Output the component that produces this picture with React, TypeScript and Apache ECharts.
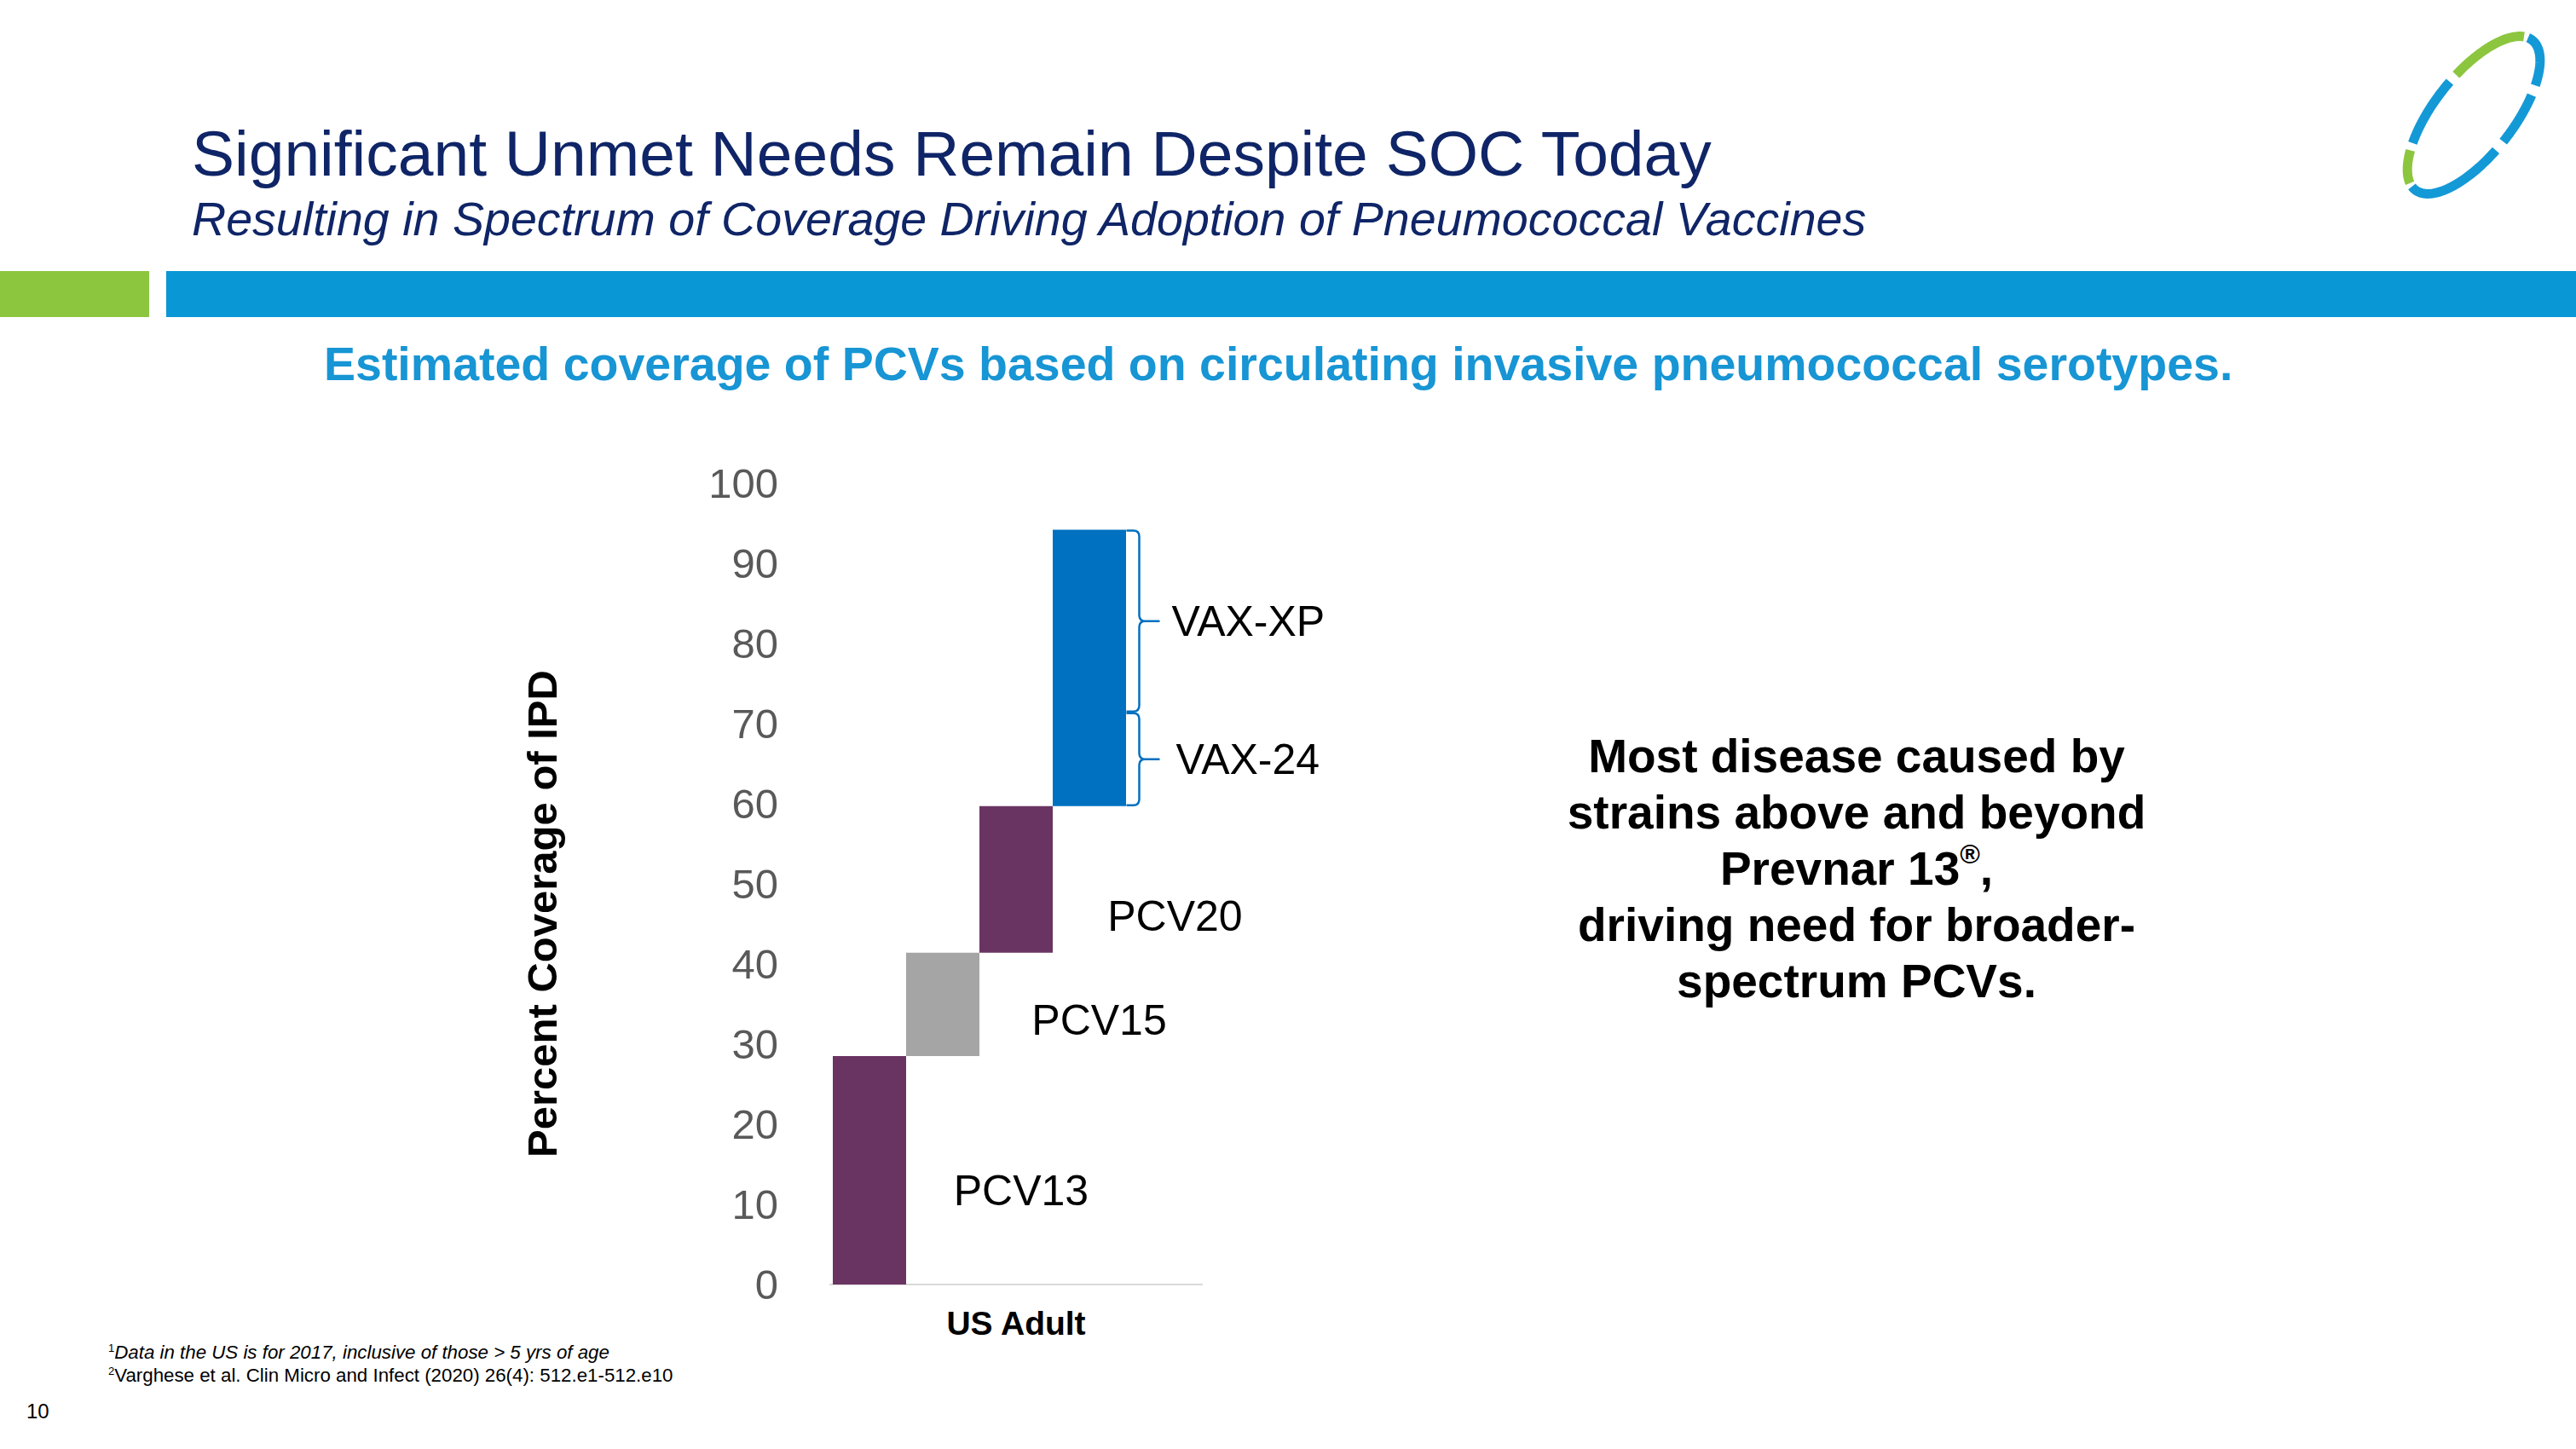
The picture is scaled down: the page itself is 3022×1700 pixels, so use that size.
import React, { useEffect, useRef } from 'react';
import * as echarts from 'echarts';

// ---------- data ----------
const categories = ['US Adult'];
const vaccines = ['PCV13', 'PCV15', 'PCV20', 'VAX-24 / VAX-XP'];
const coverageBase = [0, 28.5, 41.4, 59.7];
const coverageTop = [28.5, 41.4, 59.7, 94.2];
const barColors = ['#6A3462', '#A5A5A5', '#6A3462', '#0070C0'];
const yMin = 0;
const yMax = 100;
const yStep = 10;

const barLabels = ['PCV13', 'PCV15', 'PCV20'];
const barLabelValues = [11.7, 33.0, 46.0];
const bracketLabels = ['VAX-24', 'VAX-XP'];
const bracketRanges = [
  [59.7, 71.4],
  [71.4, 94.2],
];

// ---------- layout (slot units on hidden x value axis, 0..5) ----------
const barLabelSlotX = [1.66, 2.71, 3.73];
const bracketSlotX = 3.985;
const bracketLabelDx = [58, 53];

const FONT = 'Arial, "Liberation Sans", Helvetica, sans-serif';

// ---------- logo helpers ----------
const LOGO_C = [2902, 135];
const LOGO_A = 111.5;
const LOGO_B = 46.5;
const LOGO_ANG = (52 * Math.PI) / 180;
function logoArc(t0: number, t1: number) {
  const u = [Math.cos(LOGO_ANG), -Math.sin(LOGO_ANG)];
  const v = [Math.sin(LOGO_ANG), Math.cos(LOGO_ANG)];
  const pts: number[][] = [];
  const n = 40;
  for (let k = 0; k <= n; k++) {
    const t = t0 + ((t1 - t0) * k) / n;
    const a = LOGO_A * Math.cos(t);
    const b = LOGO_B * Math.sin(t);
    pts.push([LOGO_C[0] + a * u[0] + b * v[0], LOGO_C[1] + a * u[1] + b * v[1]]);
  }
  return pts;
}
const logoBlue = [
  [-0.12, 0.87],
  [1.0, 1.6],
  [1.72, 3.26],
  [-2.25, -1.45],
];
const logoGreen = [
  [-1.35, -0.22],
  [-2.93, -2.35],
];

function buildOption(): any {
  const series: any[] = [];
  vaccines.forEach((name, i) => {
    series.push({
      type: 'bar',
      name: name + ' base',
      stack: 's' + i,
      barWidth: 86,
      barGap: '0%',
      silent: true,
      itemStyle: { color: 'transparent' },
      data: [coverageBase[i]],
    });
    series.push({
      type: 'bar',
      name,
      stack: 's' + i,
      barWidth: 86,
      barGap: '0%',
      itemStyle: { color: barColors[i] },
      data: [coverageTop[i] - coverageBase[i]],
    });
  });
  // empty fifth slot (as in the original chart)
  series.push({
    type: 'bar',
    name: 'empty',
    stack: 's4',
    barWidth: 86,
    barGap: '0%',
    silent: true,
    itemStyle: { color: 'transparent' },
    data: [0],
  });

  // labels of PCV bars
  series.push({
    type: 'custom',
    name: 'pcv-labels',
    xAxisIndex: 1,
    yAxisIndex: 0,
    silent: true,
    data: barLabelValues.map((v, i) => [barLabelSlotX[i], v]),
    renderItem: (params: any, api: any) => {
      const i = params.dataIndex;
      const p = api.coord([api.value(0), api.value(1)]);
      return {
        type: 'text',
        x: p[0],
        y: p[1],
        style: {
          text: barLabels[i],
          fill: '#000000',
          fontSize: 50,
          fontFamily: FONT,
          align: 'left',
          verticalAlign: 'middle',
        },
      };
    },
  });

  // brackets for VAX-24 / VAX-XP
  series.push({
    type: 'custom',
    name: 'brackets',
    xAxisIndex: 1,
    yAxisIndex: 0,
    silent: true,
    encode: { x: 0, y: [1, 2] },
    data: bracketRanges.map((r) => [bracketSlotX, r[0], r[1]]),
    renderItem: (params: any, api: any) => {
      const i = params.dataIndex;
      const pBot = api.coord([api.value(0), api.value(1)]);
      const pTop = api.coord([api.value(0), api.value(2)]);
      const x0 = pBot[0];
      const xv = x0 + 15;
      const r = 7;
      const yT = pTop[1] + 1;
      const yB = pBot[1] - 1;
      const yM = (yT + yB) / 2;
      const tip = xv + 24;
      const d =
        `M${x0},${yT} L${xv - r},${yT} Q${xv},${yT} ${xv},${yT + r} ` +
        `L${xv},${yM - r} Q${xv},${yM} ${xv + r},${yM} L${tip},${yM} ` +
        `M${xv + r},${yM} Q${xv},${yM} ${xv},${yM + r} ` +
        `L${xv},${yB - r} Q${xv},${yB} ${xv - r},${yB} L${x0},${yB}`;
      return {
        type: 'group',
        children: [
          {
            type: 'path',
            shape: { pathData: d },
            style: { stroke: '#0070C0', lineWidth: 2.5, fill: 'none' },
          },
          {
            type: 'text',
            x: x0 + bracketLabelDx[i],
            y: yM,
            style: {
              text: bracketLabels[i],
              fill: '#000000',
              fontSize: 50,
              fontFamily: FONT,
              align: 'left',
              verticalAlign: 'middle',
            },
          },
        ],
      };
    },
  });

  const graphics: any[] = [
    {
      type: 'text',
      x: 225,
      y: 180,
      style: {
        text: 'Significant Unmet Needs Remain Despite SOC Today',
        fontSize: 75,
        fontFamily: FONT,
        fill: '#0F2567',
        align: 'left',
        verticalAlign: 'middle',
      },
    },
    {
      type: 'text',
      x: 225,
      y: 257,
      style: {
        text: 'Resulting in Spectrum of Coverage Driving Adoption of Pneumococcal Vaccines',
        fontSize: 55.6,
        fontStyle: 'italic',
        fontFamily: FONT,
        fill: '#0F2567',
        align: 'left',
        verticalAlign: 'middle',
      },
    },
    { type: 'rect', shape: { x: 0, y: 318, width: 175, height: 54 }, style: { fill: '#8CC63F' } },
    { type: 'rect', shape: { x: 195, y: 318, width: 2827, height: 54 }, style: { fill: '#0A97D5' } },
    {
      type: 'text',
      x: 380,
      y: 427,
      style: {
        text: 'Estimated coverage of PCVs based on circulating invasive pneumococcal serotypes.',
        fontSize: 55.5,
        fontWeight: 'bold',
        fontFamily: FONT,
        fill: '#1795D4',
        align: 'left',
        verticalAlign: 'middle',
      },
    },
    {
      type: 'text',
      x: 636,
      y: 1072,
      rotation: Math.PI / 2,
      style: {
        text: 'Percent Coverage of IPD',
        fontSize: 49,
        fontWeight: 'bold',
        fontFamily: FONT,
        fill: '#000000',
        align: 'center',
        verticalAlign: 'middle',
      },
    },
    {
      type: 'text',
      x: 2178,
      y: 854,
      style: {
        text:
          'Most disease caused by\nstrains above and beyond\n{m|Prevnar 13}{sup|®}{m|,}\ndriving need for broader-\nspectrum PCVs.',
        fontSize: 55,
        fontWeight: 'bold',
        fontFamily: FONT,
        fill: '#000000',
        lineHeight: 66,
        align: 'center',
        verticalAlign: 'top',
        rich: {
          m: { fontSize: 55, fontWeight: 'bold', fontFamily: FONT, fill: '#000000', lineHeight: 66 },
          sup: {
            fontSize: 32,
            fontWeight: 'bold',
            fontFamily: FONT,
            fill: '#000000',
            lineHeight: 66,
            verticalAlign: 'top',
            padding: [0, 0, 22, 0],
          },
        },
      },
    },
    {
      type: 'text',
      x: 127,
      y: 1586,
      style: {
        text: '{s|1}{i|Data in the US is for 2017, inclusive of those > 5 yrs of age}',
        fontFamily: FONT,
        fill: '#000000',
        verticalAlign: 'middle',
        rich: {
          s: { fontSize: 13, fontFamily: FONT, fill: '#000', padding: [0, 0, 9, 0] },
          i: { fontSize: 22.3, fontStyle: 'italic', fontFamily: FONT, fill: '#000' },
        },
      },
    },
    {
      type: 'text',
      x: 127,
      y: 1613,
      style: {
        text: '{s|2}{i|Varghese et al. Clin Micro and Infect (2020) 26(4): 512.e1-512.e10}',
        fontFamily: FONT,
        fill: '#000000',
        verticalAlign: 'middle',
        rich: {
          s: { fontSize: 13, fontFamily: FONT, fill: '#000', padding: [0, 0, 9, 0] },
          i: { fontSize: 22.3, fontFamily: FONT, fill: '#000' },
        },
      },
    },
    {
      type: 'text',
      x: 31,
      y: 1655,
      style: {
        text: '10',
        fontSize: 24,
        fontFamily: FONT,
        fill: '#000000',
        align: 'left',
        verticalAlign: 'middle',
      },
    },
  ];

  logoBlue.forEach((seg) => {
    graphics.push({
      type: 'polyline',
      shape: { points: logoArc(seg[0], seg[1]) },
      style: { stroke: '#1499D7', lineWidth: 11, fill: 'none', lineCap: 'butt' },
    });
  });
  logoGreen.forEach((seg) => {
    graphics.push({
      type: 'polyline',
      shape: { points: logoArc(seg[0], seg[1]) },
      style: { stroke: '#8CC63F', lineWidth: 11, fill: 'none', lineCap: 'butt' },
    });
  });

  return {
    animation: false,
    backgroundColor: '#ffffff',
    grid: { left: 974, top: 567, width: 436, height: 940, containLabel: false },
    xAxis: [
      {
        type: 'category',
        data: categories,
        axisLine: { show: true, lineStyle: { color: '#D9D9D9', width: 2 } },
        axisTick: { show: false },
        axisLabel: {
          fontSize: 39,
          fontWeight: 'bold',
          fontFamily: FONT,
          color: '#000000',
          margin: 26,
        },
        splitLine: { show: false },
      },
      {
        type: 'value',
        min: 0,
        max: 5,
        show: false,
        splitLine: { show: false },
      },
    ],
    yAxis: {
      type: 'value',
      min: yMin,
      max: yMax,
      interval: yStep,
      axisLine: { show: false },
      axisTick: { show: false },
      splitLine: { show: false },
      axisLabel: {
        fontSize: 49,
        fontFamily: FONT,
        color: '#595959',
        margin: 61,
      },
    },
    graphic: graphics,
    series,
  };
}

export default function App() {
  const ref = useRef<HTMLDivElement>(null);
  useEffect(() => {
    if (!ref.current) return;
    const chart = echarts.init(ref.current, null, { renderer: 'svg' });
    chart.setOption(buildOption());
    return () => chart.dispose();
  }, []);
  return (
    <div
      ref={ref}
      style={{ position: 'absolute', left: 0, top: 0, width: 3022, height: 1700, background: '#ffffff' }}
    />
  );
}
